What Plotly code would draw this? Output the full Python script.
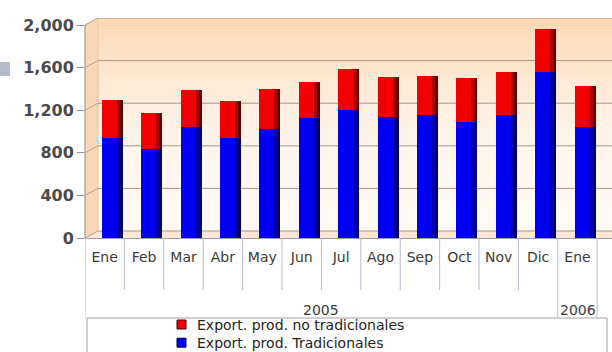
import plotly.graph_objects as go

# Monthly exports (US$ millions), 2005 - Jan 2006
meses = ["Ene", "Feb", "Mar", "Abr", "May", "Jun", "Jul", "Ago", "Sep", "Oct", "Nov", "Dic", "Ene"]
anios = ["2005"] * 12 + ["2006"]
tradicionales = [940, 835, 1040, 935, 1025, 1125, 1200, 1135, 1155, 1090, 1155, 1560, 1040]
no_tradicionales = [355, 340, 350, 355, 375, 340, 385, 375, 365, 410, 405, 400, 385]
ticks_y = [0, 400, 800, 1200, 1600, 2000]

series_names = ["Export. prod. no tradicionales", "Export. prod. Tradicionales"]
COL_T, COL_N = "#0000F0", "#F00000"

# ---- page geometry -------------------------------------------------------
W, H = 612, 352
ML, MR, MT, MB = 85, 0, 18, 114
PW, PH = W - ML - MR, H - MT - MB
CELL = 39.4            # width of one month cell, px
DX, DY = 13, 7         # depth of the pseudo-3D wall, px

x_min = -0.5
x_max = x_min + PW / CELL
y_max = 2000 * PH / (PH - DY)


def fx(p):
    return (p - ML) / PW


def fy(p):
    return (H - MB - p) / PH


def mix(c0, c1, t):
    return "rgb(%d,%d,%d)" % tuple(round(a + (b - a) * t) for a, b in zip(c0, c1))


idx = list(range(len(meses)))

BW = 21 / CELL                 # bar width in axis units
OFF = -BW / 2 + 7.5 / CELL     # bars sit slightly right (depth offset)
S1 = 6 / CELL                  # shaded right strip
S2 = 2.5 / CELL                # darkest edge

fig = go.Figure()

# main bars
fig.add_trace(go.Bar(
    x=idx, y=tradicionales, base=[0] * len(idx), width=BW, offset=OFF,
    marker=dict(color=COL_T, line=dict(width=0)), opacity=1,
    name=series_names[1],
))
fig.add_trace(go.Bar(
    x=idx, y=no_tradicionales, base=tradicionales, width=BW, offset=OFF,
    marker=dict(color=COL_N, line=dict(width=0)), opacity=1,
    name=series_names[0],
))
# cylinder shading on the right side of each bar
for w, col_b, col_r in [(S1, "#0000A8", "#A80000"), (S2, "#00005C", "#5C0000")]:
    fig.add_trace(go.Bar(
        x=idx, y=tradicionales, base=[0] * len(idx), width=w, offset=OFF + BW - w,
        marker=dict(color=col_b, line=dict(width=0)), opacity=1, hoverinfo="skip",
    ))
    fig.add_trace(go.Bar(
        x=idx, y=no_tradicionales, base=tradicionales, width=w, offset=OFF + BW - w,
        marker=dict(color=col_r, line=dict(width=0)), opacity=1, hoverinfo="skip",
    ))

shapes = []

# back wall with vertical peach gradient
top_c, bot_c = (251, 214, 177), (255, 249, 243)
N = 70
y_top, y_bot = MT, H - MB - DY
for i in range(N):
    a = y_top + (y_bot - y_top) * i / N
    b = y_top + (y_bot - y_top) * (i + 1) / N
    t = (i + 0.5) / N
    shapes.append(dict(type="rect", xref="paper", yref="paper", layer="below",
                       x0=fx(ML + DX), x1=1, y0=fy(b) - 0.002, y1=fy(a),
                       fillcolor=mix(top_c, bot_c, 1 - (1 - t) ** 2.2),
                       line=dict(width=0)))

# side wall and floor
shapes.append(dict(type="path", xref="paper", yref="paper", layer="below",
                   path="M%f,%f L%f,%f L%f,%f L%f,%f Z" % (
                       fx(ML), fy(H - MB), fx(ML), fy(MT + DY),
                       fx(ML + DX), fy(MT), fx(ML + DX), fy(H - MB - DY)),
                   fillcolor="#F9D7B4", line=dict(color="#EDC49C", width=1)))
shapes.append(dict(type="path", xref="paper", yref="paper", layer="below",
                   path="M%f,%f L%f,%f L%f,%f L%f,%f Z" % (
                       fx(ML), fy(H - MB), fx(ML + DX), fy(H - MB - DY),
                       fx(W), fy(H - MB - DY), fx(W), fy(H - MB)),
                   fillcolor="#FCE7D4", line=dict(width=0)))

# grid lines on the back wall plus the diagonal run across the side wall
for v in ticks_y:
    shapes.append(dict(type="line", xref="paper", yref="y", layer="below",
                       ysizemode="pixel", yanchor=v, y0=DY, y1=DY,
                       x0=fx(ML + DX), x1=1,
                       line=dict(color="#A89488", width=1)))
    shapes.append(dict(type="line", xref="paper", yref="y", layer="below",
                       ysizemode="pixel", yanchor=v, y0=0, y1=DY,
                       x0=0, x1=fx(ML + DX),
                       line=dict(color="#B8A090", width=1)))

# front value axis line
shapes.append(dict(type="line", xref="paper", yref="y", x0=0, x1=0, y0=0, y1=2000,
                   line=dict(color="#9A9AAA", width=1)))

# category table under the plot: month dividers, year separators and borders
table_bottom = fy(318)
month_bottom = fy(290)
grid_col = "#B9B9D2"
for i in range(len(meses) + 1):
    xb = i - 0.5
    full = i == 0 or i == len(meses) or anios[i] != anios[i - 1]
    shapes.append(dict(type="line", xref="x", yref="paper", x0=xb, x1=xb,
                       y0=0, y1=table_bottom if full else month_bottom,
                       line=dict(color=grid_col, width=1)))

# legend frame
shapes.append(dict(type="rect", xref="paper", yref="paper", layer="below",
                   x0=fx(87), x1=fx(607), y0=fy(364), y1=fy(318),
                   fillcolor="white", line=dict(color="#A0A0A0", width=1)))

# small slide marker on the left edge
shapes.append(dict(type="rect", xref="paper", yref="paper", layer="below",
                   x0=fx(0), x1=fx(10), y0=fy(76), y1=fy(62),
                   fillcolor="#B2BACB", line=dict(width=0)))

annotations = []

# year labels centred under their months
for yr in dict.fromkeys(anios):
    pos = [i for i, a in enumerate(anios) if a == yr]
    annotations.append(dict(text=yr, xref="x", yref="paper",
                            x=(pos[0] + pos[-1]) / 2, y=fy(310),
                            showarrow=False, xanchor="center", yanchor="middle",
                            font=dict(family="DejaVu Sans", size=14, color="#3A3A3A")))

# compact legend: colour keys beside a two-line block of series names
LEG_FONT = 14
row_gap = LEG_FONT * 1.3
first_row = 324.5
for row, col in enumerate([COL_N, COL_T]):
    yc = first_row + row_gap * row
    shapes.append(dict(type="rect", xref="paper", yref="paper",
                       x0=fx(177), x1=fx(186), y0=fy(yc + 4.5), y1=fy(yc - 4.5),
                       fillcolor=col,
                       line=dict(color="#400000" if row == 0 else "#000040", width=1)))
annotations.append(dict(text="<br>".join(series_names), xref="paper", yref="paper",
                        x=fx(195), y=fy(first_row - row_gap / 2), xanchor="left",
                        yanchor="top", align="left", showarrow=False,
                        font=dict(family="DejaVu Sans", size=LEG_FONT, color="#1E1E1E")))

fig.update_layout(
    width=W, height=H,
    margin=dict(l=ML, r=MR, t=MT, b=MB, autoexpand=False),
    paper_bgcolor="white", plot_bgcolor="rgba(0,0,0,0)",
    barmode="overlay", bargap=0,
    shapes=shapes, annotations=annotations,
    showlegend=False,
    xaxis=dict(range=[x_min, x_max], tickmode="array", tickvals=idx, ticktext=meses,
               showgrid=False, zeroline=False, showline=True, linecolor="#9A9AB0",
               ticks="outside", ticklen=6, tickcolor="rgba(0,0,0,0)",
               tickfont=dict(family="DejaVu Sans", size=14, color="#3A3A3A"),
               fixedrange=True),
    yaxis=dict(range=[0, y_max], tickmode="array", tickvals=ticks_y, tickformat=",d",
               showgrid=False, zeroline=False, showline=False,
               ticks="outside", ticklen=7, tickcolor="#8E8E9E",
               tickfont=dict(family="DejaVu Sans", size=16, color="#4A4A4A", weight="bold"),
               fixedrange=True),
)

fig.write_html("out.html")
